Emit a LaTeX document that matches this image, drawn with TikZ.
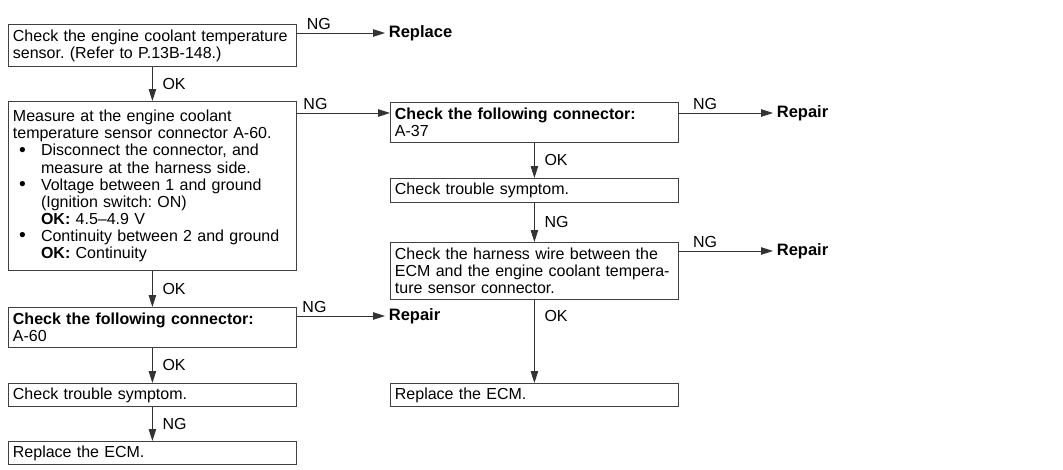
\documentclass[tikz,border=0pt]{standalone}
\usepackage{fontspec}
\setmainfont{Liberation Sans}
\usetikzlibrary{positioning,arrows.meta,calc}

\newcommand{\bitem}{\hspace*{3.5pt}\makebox[12.5pt][l]{\raisebox{-0.3pt}{\fontsize{11}{9.7}\selectfont\textbullet}}}
\newcommand{\bcont}{\hspace*{16pt}}

\begin{document}
\frenchspacing
\begin{tikzpicture}[
  x=0.02cm, y=0.02cm,
  font=\fontsize{9.1}{9.7}\selectfont,
  box/.style={draw=black!75, line width=0.5pt, align=left, text width=5.58cm, inner xsep=0.09cm, inner ysep=2pt, anchor=north west},
  flow/.style={-{Triangle[length=2.4mm, width=1.5mm]}, line width=0.5pt, black!80},
  lbl/.style={inner sep=1.5pt, text=black},
  res/.style={font=\fontsize{9.4}{9.7}\selectfont\bfseries, anchor=west, inner sep=2pt}
]
\useasboundingbox (0,0) rectangle (1063,-470);

% left column
\node[box, minimum height=0.84cm] (b1) at (8,-24) {Check the engine coolant temperature\\sensor. (Refer to P.13B-148.)};
\node[box, minimum height=3.38cm] (b2) at (8,-101) {Measure at the engine coolant\\temperature sensor connector A-60.\\
  \bitem Disconnect the connector, and\\\bcont measure at the harness side.\\
  \bitem Voltage between 1 and ground\\\bcont (Ignition switch: ON)\\\bcont\textbf{OK:} 4.5--4.9 V\\
  \bitem Continuity between 2 and ground\\\bcont\textbf{OK:} Continuity};
\node[box, minimum height=0.8cm] (b3) at (8,-307) {\textbf{Check the following connector:}\\A-60};
\node[box, minimum height=0.46cm] (b4) at (8,-383) {Check trouble symptom.};
\node[box, minimum height=0.46cm] (b5) at (8,-441) {Replace the ECM.};

% right column
\node[box, minimum height=0.8cm] (r1) at (390,-102) {\textbf{Check the following connector:}\\A-37};
\node[box, minimum height=0.48cm] (r2) at (390,-178) {Check trouble symptom.};
\node[box, minimum height=1.14cm] (r3) at (390,-242) {Check the harness wire between the\\ECM and the engine coolant tempera-\\ture sensor connector.};
\node[box, minimum height=0.46cm] (r4) at (390,-383) {Replace the ECM.};

% results
\node[res] (rep1) at (385,-33) {Replace};
\node[res] (rep2) at (773,-113) {Repair};
\node[res] (rep3) at (773,-251) {Repair};
\node[res] (rep4) at (385,-316) {Repair};
\coordinate (ng2) at ($(r1.north west)+(0,-11)$);

% OK / NG downwards
\draw[flow] (b1.south) -- node[lbl, right=4pt]{OK} (b2.north);
\draw[flow] (b2.south) -- node[lbl, right=4pt]{OK} (b3.north);
\draw[flow] (b3.south) -- node[lbl, right=4pt]{OK} (b4.north);
\draw[flow] (b4.south) -- node[lbl, right=4pt]{NG} (b5.north);
\draw[flow] (r1.south) -- node[lbl, right=4pt]{OK} (r2.north);
\draw[flow] (r2.south) -- node[lbl, right=4pt]{NG} (r3.north);
\draw[flow] (r3.south) -- node[lbl, right=4pt, pos=0.2]{OK} (r4.north);

% NG sideways
\draw[flow] (b1.east |- rep1) -- node[lbl, above, pos=0.25]{NG} (rep1.west);
\draw[flow] (b2.east |- ng2) -- node[lbl, above, pos=0.2]{NG} (ng2);
\draw[flow] (r1.east |- rep2) -- node[lbl, above, pos=0.28]{NG} (rep2.west);
\draw[flow] (r3.east |- rep3) -- node[lbl, above, pos=0.28]{NG} (rep3.west);
\draw[flow] (b3.east |- rep4) -- node[lbl, above, pos=0.2]{NG} (rep4.west);
\end{tikzpicture}
\end{document}
